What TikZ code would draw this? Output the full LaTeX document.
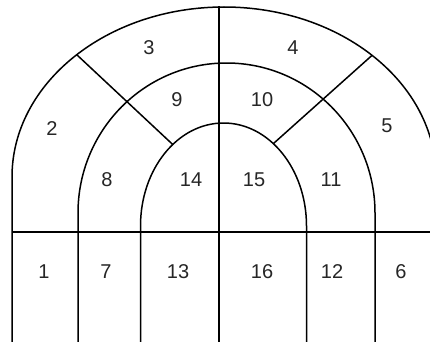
\documentclass[tikz,border=0pt]{standalone}
\usepackage{fontspec}
\setmainfont{Liberation Sans}
\usetikzlibrary{calc}
\begin{document}
\begin{tikzpicture}[x=1pt,y=1pt,
  wall/.style={line width=1.5pt,black},
  lab/.style={font=\fontsize{20}{24}\selectfont,text=black!85,inner sep=0pt}]
\useasboundingbox (0,0) rectangle (430,341);
\fill[white] (0,0) rectangle (430,341);
\clip (0,0) rectangle (430,341);
% ellipse centres
\coordinate (co) at (224,164);
\coordinate (cm) at (226.5,128);
\coordinate (ci) at (223.5,115);
% outer arch
\draw[wall] (12,-2) -- (12,164) arc[start angle=180,end angle=0,x radius=212,y radius=170] -- (436,-2);
% middle arch
\draw[wall] (78,-2) -- (78,128) arc[start angle=180,end angle=0,x radius=148.5,y radius=150] -- (375,-2);
% inner arch
\draw[wall] (140.5,-2) -- (140.5,115) arc[start angle=180,end angle=0,x radius=83,y radius=103] -- (306.5,-2);
% horizontal and centre lines
\coordinate (hl) at (12,109);
\coordinate (hr) at (440,109);
\draw[wall] (hl) -- (hr);
\coordinate (vt) at (219,334.5);
\coordinate (vb) at (219,-2);
\draw[wall] (vt) -- (vb);
% diagonals
\coordinate (dlo) at ($(co)+(134:212 and 170)$);
\coordinate (dli) at ($(ci)+(127.7:83 and 103)$);
\coordinate (dro) at ($(co)+(45.7:212 and 170)$);
\coordinate (dri) at ($(ci)+(53.1:83 and 103)$);
\draw[wall] (dlo) -- (dli);
\draw[wall] (dro) -- (dri);
% labels
\node[lab] (n3) at (149,293) {3};
\node[lab] (n4) at (293,293) {4};
\node[lab] (n2) at (52,212) {2};
\node[lab] (n5) at (387,215) {5};
\node[lab] (n9) at (177,241) {9};
\node[lab] (n10) at (262,241) {10};
\node[lab] (n8) at (107,161) {8};
\node[lab] (n14) at (191,161) {14};
\node[lab] (n15) at (254,161) {15};
\node[lab] (n11) at (331,161) {11};
\node[lab] (n1) at (44,69) {1};
\node[lab] (n7) at (106,69) {7};
\node[lab] (n13) at (178,69) {13};
\node[lab] (n16) at (262,69) {16};
\node[lab] (n12) at (332,69) {12};
\node[lab] (n6) at (401,69) {6};
\end{tikzpicture}
\end{document}
